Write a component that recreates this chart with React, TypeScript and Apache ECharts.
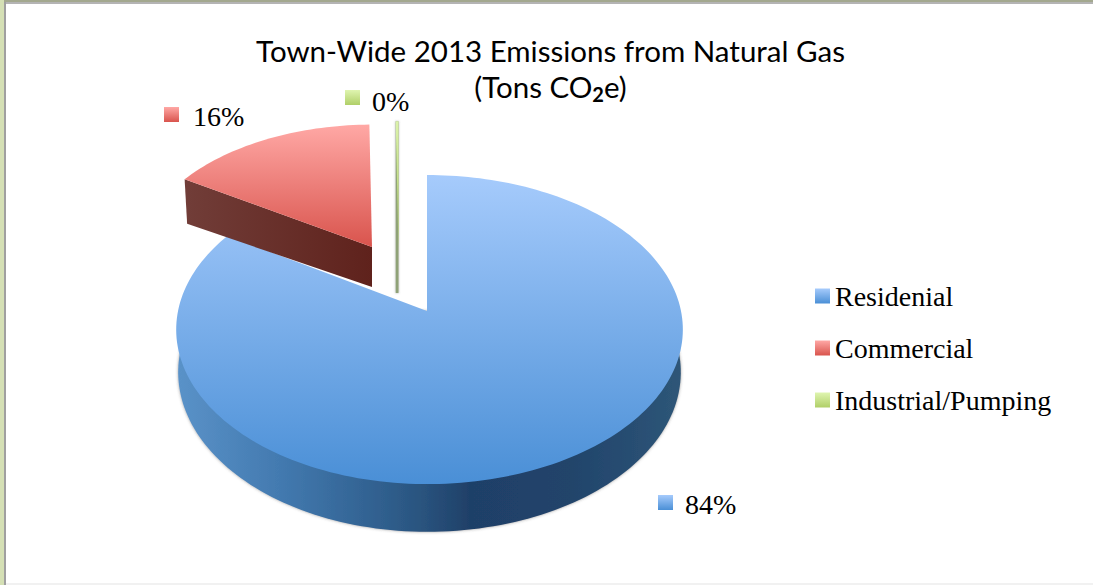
import React, { useEffect, useRef } from "react";
import * as echarts from "echarts";

// ---- data ----
const categories = ["Residenial", "Commercial", "Industrial/Pumping"];
const shares = [83.8, 16.0, 0.2];
const titleLine1 = "Town-Wide 2013 Emissions from Natural Gas";

// ---- drawing constants (one per slice, in the order of categories) ----
const apexX = [427, 372, 398.5];
const apexY = [311, 247, 251];
const scaleX = [1, 0.94, 1];
const scaleY = [1, 0.9, 0.955];
const tileX = [658, 164, 345];
const tileY = [495, 107, 90];
const textX = [685, 193, 372];
const textY = [504, 116, 101];
const faceTop = ["#a6cbfc", "#ffa8a5", "#dcf3ab"];
const faceBottom = ["#4a8fd6", "#d9544d", "#a8c85f"];
const legendGradients = [
  ["#a6cbfc", "#4a8fd6"],
  ["#ffa8a5", "#d9544d"],
  ["#dff5b0", "#b0cf68"],
];

const PERSPECTIVE = -0.12;
const RY = 152.3;
const RX_LEFT = 249;
const RX_RIGHT = 254;
const DEPTH = 42;

const vertical = (a: string, b: string, y0?: number, y1?: number) =>
  y0 === undefined
    ? { type: "linear", x: 0, y: 0, x2: 0, y2: 1, colorStops: [{ offset: 0, color: a }, { offset: 1, color: b }] }
    : { type: "linear", x: 0, y: y0, x2: 0, y2: y1, global: true, colorStops: [{ offset: 0, color: a }, { offset: 1, color: b }] };

const horizontal = (x0: number, x1: number, stops: [number, string][]) => ({
  type: "linear", x: x0, y: 0, x2: x1, y2: 0, global: true,
  colorStops: stops.map(([offset, color]) => ({ offset, color })),
});

function project(i: number, deg: number, lower = false): [number, number] {
  const t = (deg * Math.PI) / 180;
  const u = Math.sin(t);
  const v = -Math.cos(t);
  const w = 1 + PERSPECTIVE * v;
  const rx = u < 0 ? RX_LEFT : RX_RIGHT;
  const x = apexX[i] + (scaleX[i] * rx * u * (lower ? 0.992 : 1)) / w;
  const y = apexY[i] + (scaleY[i] * RY * v) / w + (lower ? DEPTH / w : 0);
  return [x, y];
}

function arc(i: number, from: number, to: number, lower = false) {
  const n = Math.max(2, Math.ceil(Math.abs(to - from) / 1.5));
  const pts: [number, number][] = [];
  for (let k = 0; k <= n; k++) pts.push(project(i, from + ((to - from) * k) / n, lower));
  return pts;
}

const startPct = shares.map((_, i) => shares.slice(0, i).reduce((a, b) => a + b, 0));

function renderSlice(i: number) {
  return (_params: any, api: any) => {
    const value = api.value(0);
    const from = (startPct[i] / 100) * 360;
    const to = from + (value / 100) * 360;
    const children: any[] = [];
    const apex: [number, number] = [apexX[i], apexY[i]];
    const apexLow: [number, number] = [apexX[i], apexY[i] + DEPTH];
    const edge = { shadowBlur: 3, shadowColor: "rgba(70,70,70,0.55)" };

    if (i === 0) {
      children.push({
        type: "polygon",
        shape: { points: [apex, ...arc(i, 75, 285, true)] },
        style: {
          fill: horizontal(178, 682, [
            [0, "#5a92c8"], [0.2, "#437ab0"], [0.4, "#30608f"], [0.48, "#2a547f"],
            [0.58, "#1f4068"], [0.78, "#21446b"], [1, "#2e5678"],
          ]),
          ...edge,
        },
      });
    }
    if (i === 1) {
      const a = project(i, from);
      const b = project(i, from, true);
      children.push({
        type: "polygon",
        shape: { points: [a, apex, [apex[0], apex[1] + DEPTH - 2], [b[0] + 1, b[1] + 5]] },
        style: {
          fill: horizontal(186, 372, [[0, "#713d38"], [1, "#5f221c"]]),
        },
      });
    }
    if (i === 2) {
      const a = project(i, from);
      const b = project(i, to);
      children.push({
        type: "polygon",
        shape: { points: [a, b, [b[0], b[1] + 1], apexLow, [a[0], apexY[i] + DEPTH]] },
        style: { fill: "#8fa277", shadowBlur: 2, shadowColor: "rgba(90,90,90,0.5)" },
      });
    }

    const topY = apexY[i] - scaleY[i] * 136;
    const bottomY = i === 0 ? 484 : apexY[i];
    children.push({
      type: "polygon",
      shape: { points: [apex, ...arc(i, from, to)] },
      style: {
        fill: vertical(faceTop[i], faceBottom[i], topY, bottomY),
      },
    });

    children.push({
      type: "rect",
      shape: { x: tileX[i], y: tileY[i], width: 15, height: 15 },
      style: { fill: vertical(legendGradients[i][0], legendGradients[i][1]) },
    });
    children.push({
      type: "text",
      style: {
        text: `${Math.round(value)}%`,
        x: textX[i],
        y: textY[i],
        fill: "#000",
        font: '28px "Liberation Serif"',
        textAlign: "left",
        textVerticalAlign: "middle",
      },
    });
    return { type: "group", children };
  };
}

export default function App() {
  const ref = useRef<HTMLDivElement>(null);
  useEffect(() => {
    document.body.style.margin = "0";
    const chart = echarts.init(ref.current!, undefined, { renderer: "svg" });
    chart.setOption({
      animation: false,
      backgroundColor: "#ffffff",
      title: {
        text: `${titleLine1}\n(Tons CO{sub|2}e)`,
        left: 545.5,
        top: 27,
        textAlign: "center",
        textStyle: {
          fontFamily: "Lato",
          fontWeight: "normal",
          fontSize: 29.5,
          lineHeight: 36,
          color: "#000",
          rich: {
            sub: { fontFamily: "Lato", fontWeight: "bold", fontSize: 20, verticalAlign: "bottom", lineHeight: 30, color: "#000" },
          },
        },
      },
      legend: {
        orient: "vertical",
        left: 815,
        top: 282,
        padding: 0,
        itemWidth: 15,
        itemHeight: 15,
        itemGap: 24,
        selectedMode: false,
        icon: "rect",
        textStyle: { fontFamily: "Liberation Serif", fontSize: 28, color: "#000" },
        data: categories.map((name, i) => ({
          name,
          icon: "rect",
          itemStyle: { color: vertical(legendGradients[i][0], legendGradients[i][1]) },
        })),
      },
      graphic: [
        { type: "rect", silent: true, shape: { x: 0, y: 0, width: 1093, height: 2 }, style: { fill: "#a3a88f" } },
        { type: "rect", silent: true, shape: { x: 0, y: 2, width: 1093, height: 2 }, style: { fill: "#b4b4b4" } },
        { type: "rect", silent: true, shape: { x: 0, y: 0, width: 4, height: 585 }, style: { fill: "#d5e0b5" } },
        { type: "rect", silent: true, shape: { x: 4, y: 2, width: 2, height: 583 }, style: { fill: "#a0a0a0" } },
        { type: "rect", silent: true, shape: { x: 6, y: 583, width: 1087, height: 2 }, style: { fill: "#f1f1f1" } },
      ],
      series: categories.map((name, i) => ({
        type: "custom",
        name,
        coordinateSystem: "none",
        silent: true,
        z: i + 2,
        data: [[shares[i]]],
        encode: { value: 0 },
        renderItem: renderSlice(i),
      })),
    });
    return () => chart.dispose();
  }, []);
  return <div ref={ref} style={{ width: 1093, height: 585, position: "absolute", left: 0, top: 0 }} />;
}
